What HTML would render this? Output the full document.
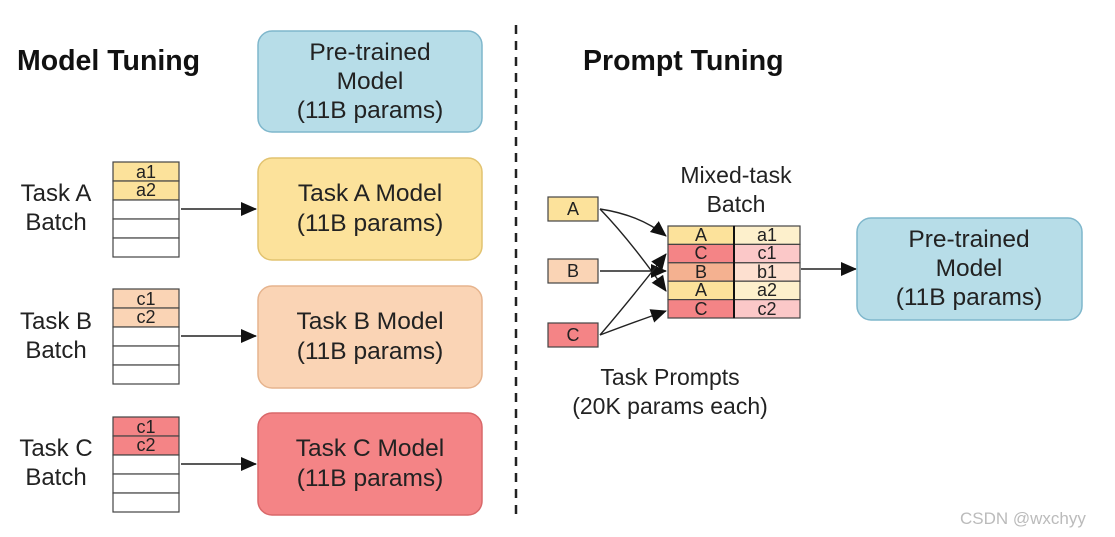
<html><body style="margin:0;background:#fff">
<svg width="1115" height="537" xmlns="http://www.w3.org/2000/svg" font-family="Liberation Sans, sans-serif">
<defs><marker id="ar" markerWidth="16" markerHeight="14" refX="15" refY="7" orient="auto" markerUnits="userSpaceOnUse"><path d="M0,0 L16,7 L0,14 z" fill="#111"/></marker></defs>
<text x="17" y="70" font-size="28.5" font-weight="bold" fill="#111">Model Tuning</text>
<text x="583" y="70" font-size="28.5" font-weight="bold" fill="#111">Prompt Tuning</text>
<line x1="516" y1="25" x2="516" y2="520" stroke="#222" stroke-width="2.5" stroke-dasharray="9,7"/>
<g font-size="24.5" fill="#222" text-anchor="middle">
<rect x="258" y="31" width="224" height="101" rx="14" fill="#b7dde8" stroke="#7fb7cc" stroke-width="1.5"/>
<text x="370" y="60">Pre-trained</text><text x="370" y="89">Model</text><text x="370" y="118">(11B params)</text>
<rect x="258" y="158" width="224" height="102" rx="14" fill="#fce29b" stroke="#e2c370" stroke-width="1.5"/>
<text x="370" y="201">Task A Model</text><text x="370" y="231">(11B params)</text>
<rect x="258" y="286" width="224" height="102" rx="14" fill="#fad4b5" stroke="#e6b48e" stroke-width="1.5"/>
<text x="370" y="329">Task B Model</text><text x="370" y="359">(11B params)</text>
<rect x="258" y="413" width="224" height="102" rx="14" fill="#f48486" stroke="#d9686a" stroke-width="1.5"/>
<text x="370" y="456">Task C Model</text><text x="370" y="486">(11B params)</text>
</g>
<g font-size="24" fill="#222" text-anchor="middle">
<text x="56" y="201">Task A</text><text x="56" y="230">Batch</text>
<text x="56" y="329">Task B</text><text x="56" y="358">Batch</text>
<text x="56" y="456">Task C</text><text x="56" y="485">Batch</text>
</g>
<g stroke="#444" stroke-width="1.2" font-size="17" text-anchor="middle" fill="#222">
<rect x="113" y="162" width="66" height="19" fill="#fce29b"/><rect x="113" y="181" width="66" height="19" fill="#fce29b"/>
<rect x="113" y="200" width="66" height="19" fill="#fff"/><rect x="113" y="219" width="66" height="19" fill="#fff"/><rect x="113" y="238" width="66" height="19" fill="#fff"/>
<rect x="113" y="289" width="66" height="19" fill="#fad4b5"/><rect x="113" y="308" width="66" height="19" fill="#fad4b5"/>
<rect x="113" y="327" width="66" height="19" fill="#fff"/><rect x="113" y="346" width="66" height="19" fill="#fff"/><rect x="113" y="365" width="66" height="19" fill="#fff"/>
<rect x="113" y="417" width="66" height="19" fill="#f48486"/><rect x="113" y="436" width="66" height="19" fill="#f48486"/>
<rect x="113" y="455" width="66" height="19" fill="#fff"/><rect x="113" y="474" width="66" height="19" fill="#fff"/><rect x="113" y="493" width="66" height="19" fill="#fff"/>
</g>
<g font-size="18" text-anchor="middle" fill="#222">
<text x="146" y="178">a1</text><text x="146" y="196">a2</text>
<text x="146" y="305">c1</text><text x="146" y="323">c2</text>
<text x="146" y="433">c1</text><text x="146" y="451">c2</text>
</g>
<g stroke="#222" stroke-width="1.4" fill="none" marker-end="url(#ar)">
<line x1="181" y1="209" x2="256" y2="209"/><line x1="181" y1="336" x2="256" y2="336"/><line x1="181" y1="464" x2="256" y2="464"/>
<line x1="801" y1="269" x2="856" y2="269"/>
<path d="M600,209 Q640,215 666,236"/>
<path d="M600,209 Q630,240 666,291"/>
<path d="M600,271 L666,271"/>
<path d="M600,335 Q630,300 666,254"/>
<path d="M600,335 Q640,320 666,311"/>
</g>
<g stroke="#444" stroke-width="1.2">
<rect x="548" y="197" width="50" height="24" fill="#fce29b"/>
<rect x="548" y="259" width="50" height="24" fill="#fad4b5"/>
<rect x="548" y="323" width="50" height="24" fill="#f48486"/>
<rect x="668" y="226" width="66" height="18.4" fill="#fce29b"/><rect x="734" y="226" width="66" height="18.4" fill="#fdf0cc"/>
<rect x="668" y="244.4" width="66" height="18.4" fill="#f48486"/><rect x="734" y="244.4" width="66" height="18.4" fill="#fbc8c8"/>
<rect x="668" y="262.8" width="66" height="18.4" fill="#f4b190"/><rect x="734" y="262.8" width="66" height="18.4" fill="#fde0d0"/>
<rect x="668" y="281.2" width="66" height="18.4" fill="#fce29b"/><rect x="734" y="281.2" width="66" height="18.4" fill="#fdf0cc"/>
<rect x="668" y="299.6" width="66" height="18.4" fill="#f48486"/><rect x="734" y="299.6" width="66" height="18.4" fill="#fbc8c8"/>
</g>
<line x1="734" y1="226" x2="734" y2="318" stroke="#111" stroke-width="2"/>
<g font-size="18" text-anchor="middle" fill="#222">
<text x="573" y="215">A</text><text x="573" y="277">B</text><text x="573" y="341">C</text>
<text x="701" y="241">A</text><text x="767" y="241">a1</text>
<text x="701" y="259">C</text><text x="767" y="259">c1</text>
<text x="701" y="278">B</text><text x="767" y="278">b1</text>
<text x="701" y="296">A</text><text x="767" y="296">a2</text>
<text x="701" y="315">C</text><text x="767" y="315">c2</text>
</g>
<g font-size="23" text-anchor="middle" fill="#222">
<text x="736" y="183">Mixed-task</text><text x="736" y="212">Batch</text>
<text x="670" y="385">Task  Prompts</text><text x="670" y="414">(20K params each)</text>
</g>
<g font-size="24.5" text-anchor="middle" fill="#222">
<rect x="857" y="218" width="225" height="102" rx="14" fill="#b7dde8" stroke="#7fb7cc" stroke-width="1.5"/>
<text x="969" y="247">Pre-trained</text><text x="969" y="276">Model</text><text x="969" y="305">(11B params)</text>
</g>
<text x="960" y="524" font-size="17" fill="#bbb">CSDN @wxchyy</text>
</svg>
</body></html>
